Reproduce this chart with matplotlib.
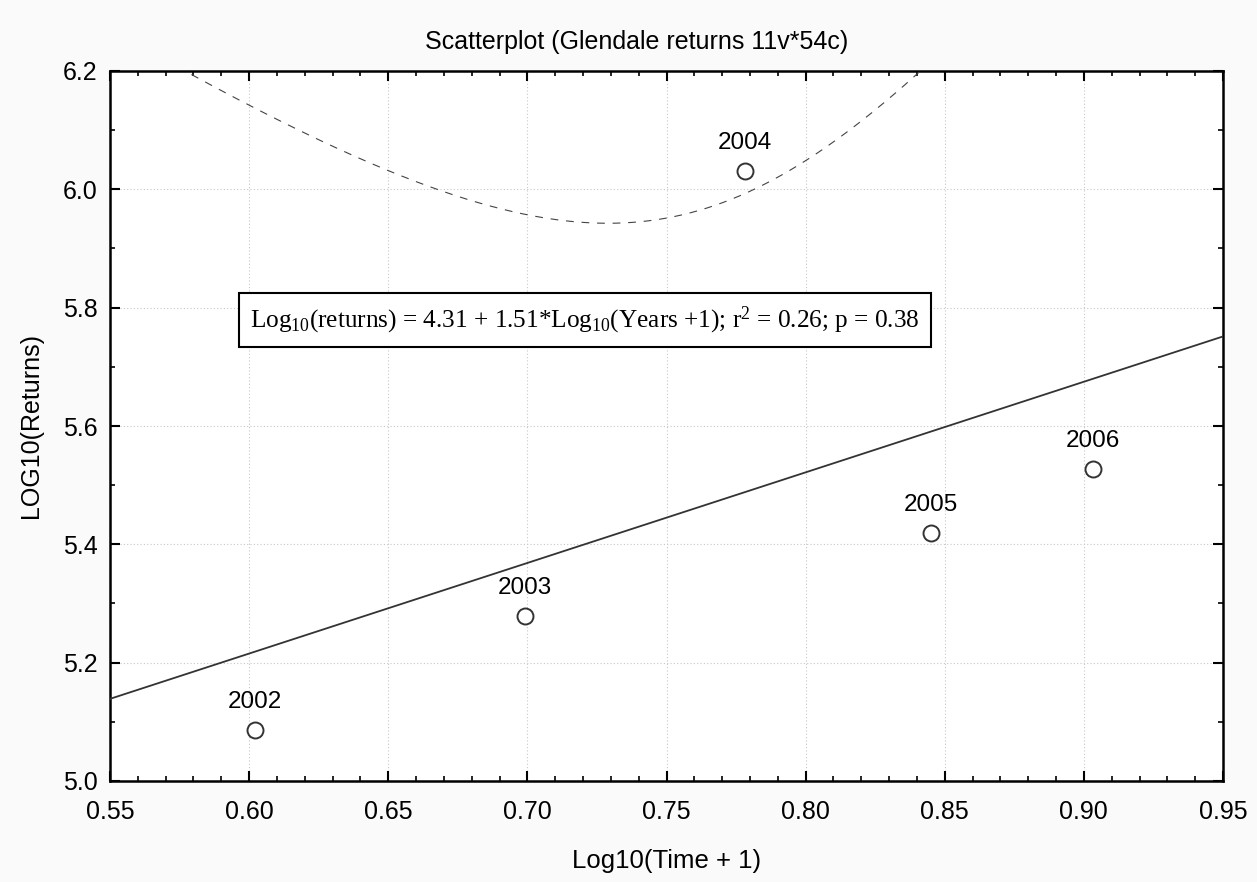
import numpy as np
import matplotlib
matplotlib.use("Agg")
import matplotlib.pyplot as plt
from matplotlib.ticker import MultipleLocator, FormatStrFormatter

# ---- data ----
years = ["2002", "2003", "2004", "2005", "2006"]
log_time = [0.6021, 0.6990, 0.7782, 0.8450, 0.9031]
log_returns = [5.086, 5.279, 6.031, 5.420, 5.528]
t_crit = 3.182  # t(0.975, df=3)

title = "Scatterplot (Glendale returns 11v*54c)"
xlabel = "Log10(Time + 1)"
ylabel = "LOG10(Returns)"
equation = (r"Log$_{10}$(returns) = 4.31 + 1.51*Log$_{10}$(Years +1); "
            r"r$^2$ = 0.26; p = 0.38")

plt.rcParams['font.family'] = ['Liberation Sans', 'DejaVu Sans']
plt.rcParams['mathtext.fontset'] = 'custom'
plt.rcParams['mathtext.rm'] = 'Liberation Serif'
plt.rcParams['mathtext.it'] = 'Liberation Serif:italic'

fig = plt.figure(figsize=(12.57, 8.82), dpi=100, facecolor='#fafafa')
ax = fig.add_axes([110/1257, 1-781/882, (1223-110)/1257, (781-71)/882])
ax.set_facecolor('white')

x = np.array(log_time)
y = np.array(log_returns)
slope, intercept = np.polyfit(x, y, 1)
n = len(x)
resid = y - (intercept + slope * x)
s = np.sqrt(np.sum(resid**2) / (n - 2))
sxx = np.sum((x - x.mean())**2)

xs = np.linspace(0.55, 0.95, 400)
fit = intercept + slope * xs
half = t_crit * s * np.sqrt(1/n + (xs - x.mean())**2 / sxx)

ax.plot(xs, fit, color='#333333', lw=1.3, zorder=3)
ax.plot(xs, fit + half, color='#444444', lw=0.8, dashes=(7, 7), zorder=3)
ax.plot(xs, fit - half, color='#444444', lw=0.8, dashes=(7, 7), zorder=3)

ax.plot(x, y, 'o', ms=11.5, mfc='white', mec='#333333', mew=1.4, zorder=4)
for xi, yi, lab in zip(x, y, years):
    ax.annotate(lab, (xi, yi), xytext=(0, 20), textcoords='offset points',
                ha='center', va='center', fontsize=17.5, color='black', zorder=5)

ax.set_xlim(0.55, 0.95)
ax.set_ylim(5.0, 6.2)
ax.xaxis.set_major_locator(MultipleLocator(0.05))
ax.xaxis.set_minor_locator(MultipleLocator(0.01))
ax.yaxis.set_major_locator(MultipleLocator(0.2))
ax.yaxis.set_minor_locator(MultipleLocator(0.1))
ax.xaxis.set_major_formatter(FormatStrFormatter('%.2f'))
ax.yaxis.set_major_formatter(FormatStrFormatter('%.1f'))
ax.tick_params(which='both', direction='in', top=True, right=True,
               labelsize=18, colors='black')
ax.tick_params(which='major', length=7, width=1.5)
ax.tick_params(which='minor', length=3.5, width=1.2)
ax.tick_params(axis='x', which='major', pad=14)
ax.tick_params(axis='y', which='major', pad=9)
for sp in ax.spines.values():
    sp.set_linewidth(1.8)
ax.grid(True, which='major', color='#c8c8c8', ls=(0, (1, 2)), lw=0.8)
ax.set_axisbelow(True)

ax.text((585-110)/(1223-110), 1-(320-71)/(781-71), equation,
        transform=ax.transAxes, ha='center', va='center', fontsize=18.2,
        family='Liberation Serif',
        bbox=dict(boxstyle='square,pad=0.45', fc='white', ec='black', lw=1.5),
        zorder=6)

fig.text(637/1257, 1-49/882, title, ha='center', va='baseline', fontsize=18)
ax.set_xlabel(xlabel, fontsize=18.5, labelpad=18)
ax.set_ylabel(ylabel, fontsize=18, labelpad=14)

fig.savefig('out.png', dpi=100, facecolor=fig.get_facecolor())
